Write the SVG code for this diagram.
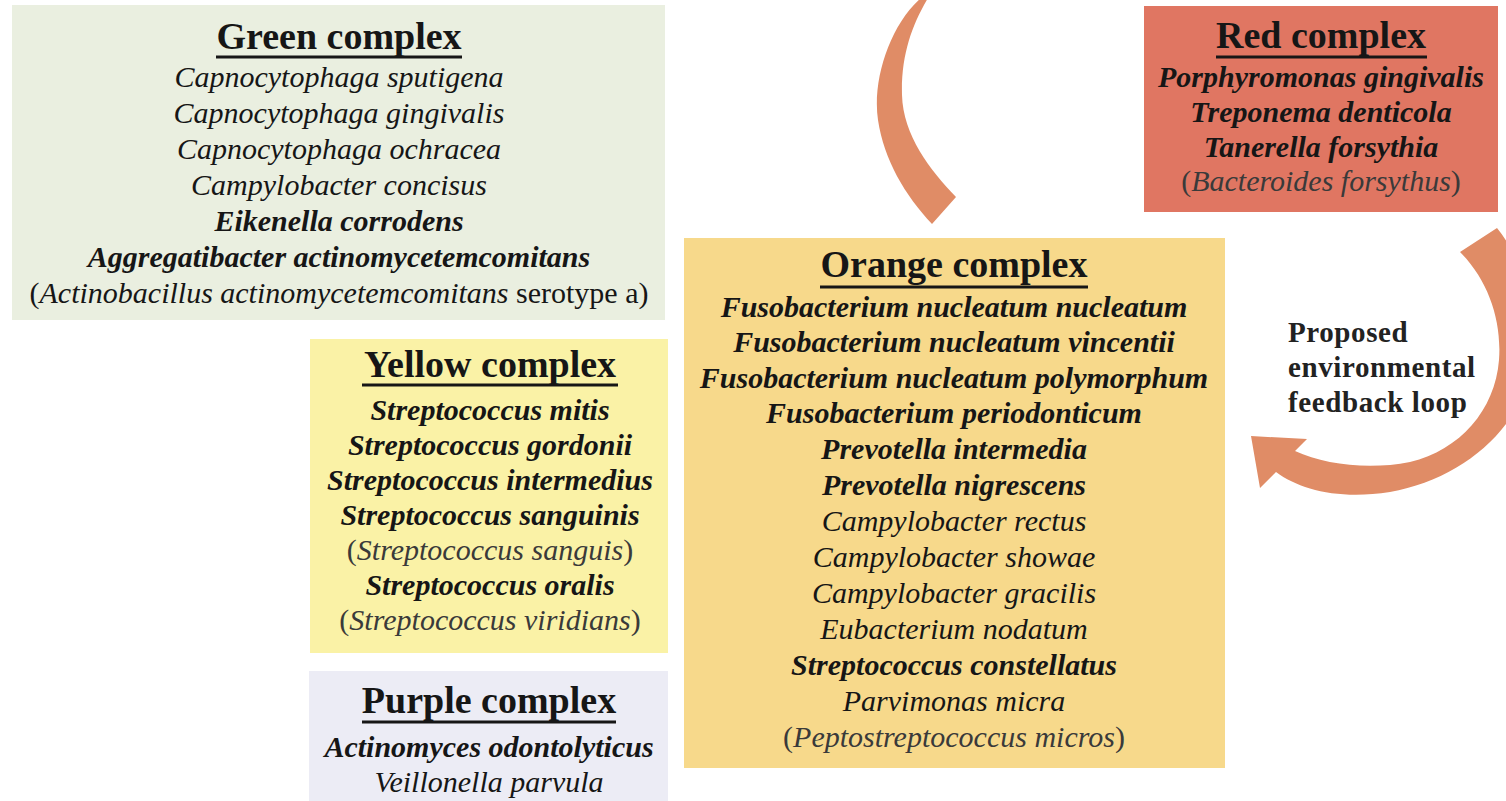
<svg xmlns="http://www.w3.org/2000/svg" width="1506" height="801" viewBox="0 0 1506 801">
<style>
text{font-family:"Liberation Serif","Times New Roman",serif;fill:#161616;text-anchor:middle}
.t{font-size:38px;font-weight:bold}
.s{font-size:30px;font-style:italic}
.b{font-weight:bold}
.p{fill:#3a3a3a;font-weight:normal}
.u{font-style:normal}
.ul{stroke:#161616;stroke-width:3}
.arrow{fill:#e08c66}
.lbl{font-size:29px;font-weight:bold;text-anchor:start;fill:#222;letter-spacing:0.6px}
</style>
<rect width="1506" height="801" fill="#ffffff"/>
<g id="connectors">
<path class="arrow" d="M921,-2 C890,25 872,80 878,120 C884,160 905,195 932,224 L956,197 C930,170 903,135 902,95 C901,55 912,25 928,-2 Z"/>
<path class="arrow" d="M1460,252 L1497,228 C1525,262 1540,320 1530,370 C1520,430 1460,480 1390,492 C1340,500 1300,490 1276,472 L1260,488 L1251,436 L1307,439 L1295,451 C1325,465 1370,470 1410,462 C1460,450 1495,410 1499,360 C1502,320 1488,280 1460,252 Z"/>
<g id="loop-label">
<text class="lbl" x="1288" y="342">Proposed</text>
<text class="lbl" x="1288" y="377">environmental</text>
<text class="lbl" x="1288" y="412">feedback loop</text>
</g>
</g>
<g id="green">
<rect x="12" y="5" width="653" height="315" fill="#eaefe0"/>
<text class="t" x="339" y="49">Green complex</text>
<line class="ul" x1="216" y1="57" x2="462" y2="57"/>
<text class="s" x="339" y="87">Capnocytophaga sputigena</text>
<text class="s" x="339" y="123">Capnocytophaga gingivalis</text>
<text class="s" x="339" y="159">Capnocytophaga ochracea</text>
<text class="s" x="339" y="195">Campylobacter concisus</text>
<text class="s b" x="339" y="231">Eikenella corrodens</text>
<text class="s b" x="339" y="267">Aggregatibacter actinomycetemcomitans</text>
<text class="s" x="339" y="303"><tspan class="u">(</tspan>Actinobacillus actinomycetemcomitans<tspan class="u"> serotype a)</tspan></text>
</g>
<g id="red">
<rect x="1144" y="6" width="354" height="206" fill="#e07662"/>
<text class="t" x="1321" y="48">Red complex</text>
<line class="ul" x1="1216" y1="57" x2="1427" y2="57"/>
<text class="s b" x="1321" y="87">Porphyromonas gingivalis</text>
<text class="s b" x="1321" y="122">Treponema denticola</text>
<text class="s b" x="1321" y="157">Tanerella forsythia</text>
<text class="s p" x="1321" y="191"><tspan class="u">(</tspan>Bacteroides forsythus<tspan class="u">)</tspan></text>
</g>
<g id="yellow">
<rect x="310" y="339" width="358" height="314" fill="#faf2a6"/>
<text class="t" x="490" y="377">Yellow complex</text>
<line class="ul" x1="362" y1="385" x2="618" y2="385"/>
<text class="s b" x="490" y="420">Streptococcus mitis</text>
<text class="s b" x="490" y="455">Streptococcus gordonii</text>
<text class="s b" x="490" y="490">Streptococcus intermedius</text>
<text class="s b" x="490" y="525">Streptococcus sanguinis</text>
<text class="s p" x="490" y="560"><tspan class="u">(</tspan>Streptococcus sanguis<tspan class="u">)</tspan></text>
<text class="s b" x="490" y="595">Streptococcus oralis</text>
<text class="s p" x="490" y="630"><tspan class="u">(</tspan>Streptococcus viridians<tspan class="u">)</tspan></text>
</g>
<g id="purple">
<rect x="309" y="671" width="359" height="130" fill="#ececf5"/>
<text class="t" x="489" y="713">Purple complex</text>
<line class="ul" x1="362" y1="722" x2="616" y2="722"/>
<text class="s b" x="489" y="757">Actinomyces odontolyticus</text>
<text class="s" x="489" y="792">Veillonella parvula</text>
</g>
<g id="orange">
<rect x="684" y="238" width="541" height="530" fill="#f7d98b"/>
<text class="t" x="954" y="277">Orange complex</text>
<line class="ul" x1="820" y1="287" x2="1088" y2="287"/>
<text class="s b" x="954" y="317">Fusobacterium nucleatum nucleatum</text>
<text class="s b" x="954" y="352">Fusobacterium nucleatum vincentii</text>
<text class="s b" x="954" y="388">Fusobacterium nucleatum polymorphum</text>
<text class="s b" x="954" y="423">Fusobacterium periodonticum</text>
<text class="s b" x="954" y="459">Prevotella intermedia</text>
<text class="s b" x="954" y="495">Prevotella nigrescens</text>
<text class="s" x="954" y="531">Campylobacter rectus</text>
<text class="s" x="954" y="567">Campylobacter showae</text>
<text class="s" x="954" y="603">Campylobacter gracilis</text>
<text class="s" x="954" y="639">Eubacterium nodatum</text>
<text class="s b" x="954" y="675">Streptococcus constellatus</text>
<text class="s" x="954" y="711">Parvimonas micra</text>
<text class="s p" x="954" y="747"><tspan class="u">(</tspan>Peptostreptococcus micros<tspan class="u">)</tspan></text>
</g>
</svg>
